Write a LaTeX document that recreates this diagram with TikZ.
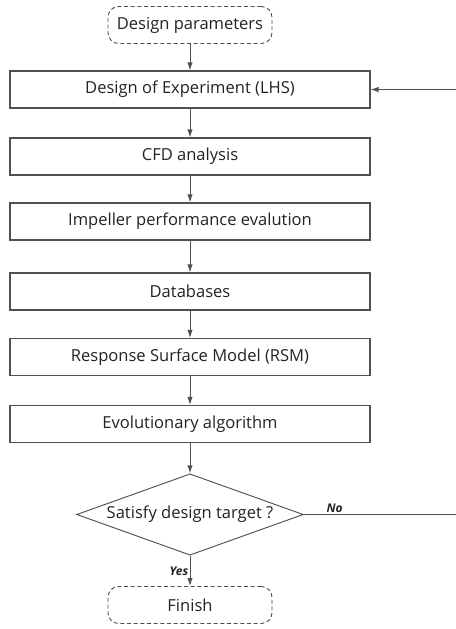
\documentclass[tikz,border=0pt]{standalone}
\usepackage{fontspec}
\setmainfont{Open Sans}
\usetikzlibrary{shapes.geometric,arrows.meta}
\definecolor{linegray}{HTML}{505050}
\definecolor{textgray}{HTML}{222222}
\tikzset{
    process/.style={draw=linegray,line width=0.8pt,rectangle,minimum width=270pt,minimum height=27.75pt,inner sep=0pt,text=textgray,font=\fontsize{12.4}{14}\selectfont},
    terminal/.style={draw=linegray,line width=0.7pt,dashed,dash pattern=on 3pt off 2pt,rectangle,rounded corners=8pt,minimum width=123pt,minimum height=27.75pt,inner sep=0pt,text=textgray,font=\fontsize{12.4}{14}\selectfont},
    decision/.style={draw=linegray,line width=0.7pt,diamond,aspect=2.8,minimum width=170pt,minimum height=61pt,inner sep=0pt,text=textgray,font=\fontsize{12.4}{14}\selectfont},
    flow/.style={draw=linegray,line width=0.7pt,-{Latex[length=6pt,width=4pt]}},
    answer/.style={font=\fontsize{9}{10}\selectfont\bfseries\itshape,text=textgray,inner sep=1pt}
}
\def\cx{190}
\def\fbx{458}

\begin{document}
\begin{tikzpicture}[x=0.75pt,y=-0.75pt]
  \useasboundingbox (0,0) rectangle (456,629);

  % Start and end
  \node[terminal] (start) at (\cx,25) {Design parameters};
  \node[terminal] (finish) at (\cx,605) {Finish};

  % Process steps
  \node[process] (doe) at (\cx,89.5) {Design of Experiment (LHS)};
  \node[process] (cfd) at (\cx,156.5) {CFD analysis};
  \node[process] (perf) at (\cx,221.5) {Impeller performance evalution};
  \node[process] (db) at (\cx,291.5) {Databases};
  \node[process] (rsm) at (\cx,357) {Response Surface Model (RSM)};
  \node[process] (ea) at (\cx,424) {Evolutionary algorithm};

  % Decision
  \node[decision] (check) at (\cx,514.5) {Satisfy design target ?};

  % Flow
  \draw[flow] (start) -- (doe);
  \draw[flow] (doe) -- (cfd);
  \draw[flow] (cfd) -- (perf);
  \draw[flow] (perf) -- (db);
  \draw[flow] (db) -- (rsm);
  \draw[flow] (rsm) -- (ea);
  \draw[flow] (ea) -- (check);
  \draw[flow] (check) -- (finish) node[answer,pos=0.5,left] {Yes};

  % Feedback loop
  \coordinate (back) at (\fbx,0);
  \draw[flow] (check.east) -- (check.east -| back) node[answer,pos=0.2,above] {No} |- (doe.east);
\end{tikzpicture}
\end{document}
